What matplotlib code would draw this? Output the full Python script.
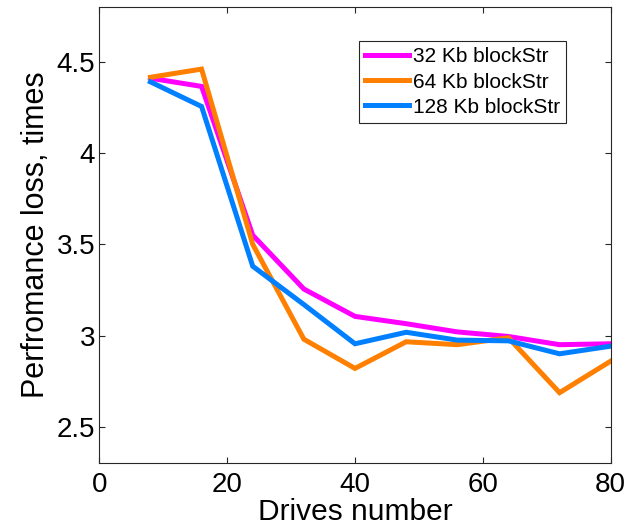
import numpy as np
import matplotlib
matplotlib.use("Agg")
import matplotlib.pyplot as plt

plt.rcParams.update({
    "font.family": ["Liberation Sans", "DejaVu Sans"],
    "xtick.direction": "in",
    "ytick.direction": "in",
    "xtick.top": True,
    "ytick.right": True,
})

drives = [8, 16, 24, 32, 40, 48, 56, 64, 72, 80]
loss_32 = [4.41, 4.365, 3.55, 3.255, 3.105, 3.065, 3.02, 2.995, 2.95, 2.955]
loss_64 = [4.415, 4.46, 3.50, 2.98, 2.82, 2.966, 2.95, 2.988, 2.687, 2.86]
loss_128 = [4.39, 4.255, 3.38, 3.17, 2.955, 3.018, 2.975, 2.971, 2.90, 2.942]

labels = ["32 Kb blockStr", "64 Kb blockStr", "128 Kb blockStr"]
colors = ["#FF00FF", "#FF8000", "#0080FF"]

fig = plt.figure(figsize=(6.43, 5.32), dpi=100)
ax = fig.add_axes([0.1544, 0.1291, 0.7954, 0.8577])

for series, lab, col in zip([loss_32, loss_64, loss_128], labels, colors):
    ax.plot(drives, series, color=col, lw=3.6, label=lab, solid_joinstyle="miter")

ax.set_xlim(0, 80)
ax.set_ylim(2.3, 4.8)
ax.set_xticks([0, 20, 40, 60, 80])
ax.set_yticks([2.5, 3, 3.5, 4, 4.5])
ax.set_yticklabels(["2.5", "3", "3.5", "4", "4.5"])
ax.tick_params(labelsize=20, length=4, width=0.8, color="#262626", pad=3)
ax.tick_params(axis="x", pad=6.5)
for s in ax.spines.values():
    s.set_color("#262626")
    s.set_linewidth(0.8)

ax.set_xlabel("Drives number", fontsize=21.5, labelpad=0)
ax.set_ylabel("Perfromance loss, times", fontsize=22, labelpad=4)

leg = ax.legend(loc="upper right", bbox_to_anchor=(0.913, 0.9255), fontsize=15,
                frameon=True, fancybox=False, framealpha=1, edgecolor="#262626",
                handlelength=2.1, handletextpad=0.2, borderpad=0.3, labelspacing=0.3,
                borderaxespad=0)
leg.get_frame().set_linewidth(0.8)

fig.savefig("out.png", dpi=100)
